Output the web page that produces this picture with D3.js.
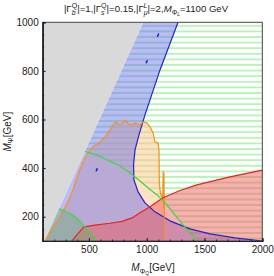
<!DOCTYPE html>
<html>
<head>
<meta charset="utf-8">
<script src="https://cdn.jsdelivr.net/npm/d3@7"></script>
<style>
  body { margin: 0; background: #fff; }
  svg { display: block; font-family: "Liberation Sans", Arial, sans-serif; }
</style>
</head>
<body>
<script>
// boundaries, in (M_PhiQ, M_Psi) GeV
const grayEdge = [[114, 100], [971, 1000]];
const blueEdge = [[1271, 1000], [1115, 804], [985, 619], [933, 537], [899, 475], [886, 413], [890, 351],
  [925, 302], [985, 257], [1071, 220], [1201, 183], [1374, 150], [1547, 129], [1764, 113], [2000, 100]];
const orangeEdge = [[129, 100], [163, 134], [250, 200], [319, 261], [362, 310], [414, 384], [457, 433],
  [492, 462], [535, 487], [596, 508], [639, 528], [682, 557], [708, 577], [734, 590], [769, 577],
  [812, 598], [855, 577], [899, 585], [942, 577], [968, 590], [1002, 586], [1029, 569], [1055, 545],
  [1072, 508], [1098, 504], [1106, 475], [1109, 340], [1118, 300], [1128, 283], [1138, 275],
  [1143, 386], [1146, 240], [1149, 380], [1152, 225], [1152, 100]];
const redEdge = [[353, 100], [405, 130], [457, 158], [553, 165], [682, 173], [786, 181], [873, 195],
  [942, 216], [1029, 241], [1141, 278], [1288, 308], [1435, 331], [1720, 364], [2000, 392]];
const greenUpper = [[466, 469], [596, 448], [682, 428], [769, 409], [855, 380], [942, 347], [1028, 312],
  [1098, 286], [1167, 253], [1236, 212], [1305, 171], [1374, 134], [1444, 100]];
const greenLower = [[241, 232], [336, 214], [405, 191], [457, 162], [509, 138], [570, 100]];
const blueSpots = [[1098, 947], [1000, 838], [567, 393]];

const xMajor = [500, 1000, 1500, 2000];
const yMajor = [200, 400, 600, 800, 1000];
const xMinor = d3.range(100, 2001, 100);
const yMinor = d3.range(100, 1001, 50);

const W = 274, H = 276;
const m = {left: 42.7, right: 11.7, top: 22.3, bottom: 35};

const x = d3.scaleLinear().domain([100, 2000]).range([m.left, W - m.right]);
const y = d3.scaleLinear().domain([100, 1000]).range([H - m.bottom, m.top]);

const svg = d3.select("body").append("svg")
  .attr("width", W).attr("height", H);

const defs = svg.append("defs");
defs.append("clipPath").attr("id", "plot")
  .append("rect")
  .attr("x", x(100)).attr("y", y(1000))
  .attr("width", x(2000) - x(100)).attr("height", y(100) - y(1000));

// horizontal hatching
const hatch = defs.append("pattern").attr("id", "hatch")
  .attr("patternUnits", "userSpaceOnUse")
  .attr("width", 8).attr("height", 5.6)
  .attr("y", 0.6);
hatch.append("rect").attr("x", 0).attr("y", 2.2).attr("width", 8).attr("height", 1.2)
  .attr("fill", "#94ec94");

const line = d3.line().x(d => x(d[0])).y(d => y(d[1]));
const area = pts => line(pts) + "Z";

const g = svg.append("g").attr("clip-path", "url(#plot)");

// hatched region above the upper green curve
g.append("path")
  .attr("d", area([...greenUpper, [2000, 100], [2000, 1000], grayEdge[1]]))
  .attr("fill", "url(#hatch)");

// orange region
g.append("path")
  .attr("d", area(orangeEdge))
  .attr("fill", "#ffc48a").attr("fill-opacity", 0.5);

// blue band
g.append("path")
  .attr("d", area([grayEdge[0], grayEdge[1], ...blueEdge, [2000, 100]]))
  .attr("fill", "#5860ec").attr("fill-opacity", 0.42);

// red region
g.append("path")
  .attr("d", area([...redEdge, [2000, 100]]))
  .attr("fill", "#f05050").attr("fill-opacity", 0.45);

// green region, lower left
g.append("path")
  .attr("d", area([grayEdge[0], ...greenLower]))
  .attr("fill", "#60b060").attr("fill-opacity", 0.35);

// gray excluded corner
g.append("path")
  .attr("d", area([[100, 100], grayEdge[0], grayEdge[1], [100, 1000]]))
  .attr("fill", "#d9d9d9");

// contour lines
const curves = [
  [blueEdge, "#2323c8"],
  [orangeEdge, "#f5901e"],
  [redEdge, "#e8221e"],
  [greenUpper, "#3cd83c"],
  [greenLower, "#3cd83c"]
];
curves.forEach(([pts, c]) => {
  g.append("path").attr("d", line(pts))
    .attr("fill", "none").attr("stroke", c).attr("stroke-width", 1.2)
    .attr("stroke-linejoin", "round");
});

g.selectAll(".spot").data(blueSpots).join("ellipse")
  .attr("cx", d => x(d[0])).attr("cy", d => y(d[1]))
  .attr("rx", 0.9).attr("ry", 2)
  .attr("transform", d => `rotate(25,${x(d[0])},${y(d[1])})`)
  .attr("fill", "#2323c8");

// frame and ticks
svg.append("rect")
  .attr("x", x(100)).attr("y", y(1000))
  .attr("width", x(2000) - x(100)).attr("height", y(100) - y(1000))
  .attr("fill", "none").attr("stroke", "#444").attr("stroke-width", 1);

const fmt = d3.format("d");
const axes = [
  [d3.axisBottom(x).tickValues(xMinor).tickSize(-1.5).tickFormat(""), `translate(0,${y(100)})`],
  [d3.axisBottom(x).tickValues(xMajor).tickSize(-3).tickPadding(5).tickFormat(fmt), `translate(0,${y(100)})`],
  [d3.axisLeft(y).tickValues(yMinor).tickSize(-1.5).tickFormat(""), `translate(${x(100)},0)`],
  [d3.axisLeft(y).tickValues(yMajor).tickSize(-3).tickPadding(4).tickFormat(fmt), `translate(${x(100)},0)`]
];
axes.forEach(([ax, tr]) => {
  const a = svg.append("g").attr("transform", tr).call(ax);
  a.select(".domain").attr("stroke", "#222").attr("stroke-width", 1.2);
  a.selectAll(".tick line").attr("stroke", "#222");
  a.selectAll("text").attr("font-size", 10).attr("fill", "#222")
    .attr("font-family", '"Liberation Sans", Arial, sans-serif');
});

// title with sub/superscripts
function rich(sel, parts) {
  parts.forEach(p => {
    const t = sel.append("tspan").text(p.t);
    if (p.i) t.attr("font-style", "italic");
    if (p.s) t.attr("font-size", p.s);
    if (p.dx) t.attr("dx", p.dx);
    if (p.dy) t.attr("dy", p.dy);
  });
}
const title = svg.append("text")
  .attr("x", 146).attr("y", 12)
  .attr("text-anchor", "middle").attr("font-size", 9.6).attr("fill", "#222");
rich(title, [
  {t: "|Γ"}, {t: "b", i: 1, s: 7, dy: 2.5}, {t: "Q", s: 7, dx: -3.8, dy: -6.5}, {t: "|=1,|Γ", dy: 4},
  {t: "s", i: 1, s: 7, dy: 2.5}, {t: "Q", s: 7, dx: -3.5, dy: -6.5}, {t: "|=0.15,|Γ", dy: 4},
  {t: "μ", i: 1, s: 7, dy: 2.5}, {t: "L", i: 1, s: 7, dx: -4, dy: -6.5}, {t: "|=2,", dy: 4},
  {t: "M", i: 1}, {t: "Φ", s: 7, dy: 2.5}, {t: "L", i: 1, s: 5, dy: 1.5}, {t: "=1100 GeV", dy: -4}
]);

const xl = svg.append("text")
  .attr("x", 153).attr("y", 271)
  .attr("text-anchor", "middle").attr("font-size", 10).attr("fill", "#222");
rich(xl, [{t: "M", i: 1}, {t: "Φ", s: 7, dy: 2.5}, {t: "Q", s: 5, dy: 1.5}, {t: "[GeV]", dy: -4}]);

const yl = svg.append("text")
  .attr("transform", `translate(10.5,${(y(100) + y(1000)) / 2}) rotate(-90)`)
  .attr("text-anchor", "middle").attr("font-size", 10).attr("fill", "#222");
rich(yl, [{t: "M", i: 1}, {t: "Ψ", s: 7, dy: 2.5}, {t: "[GeV]", dy: -2.5}]);
</script>
</body>
</html>
